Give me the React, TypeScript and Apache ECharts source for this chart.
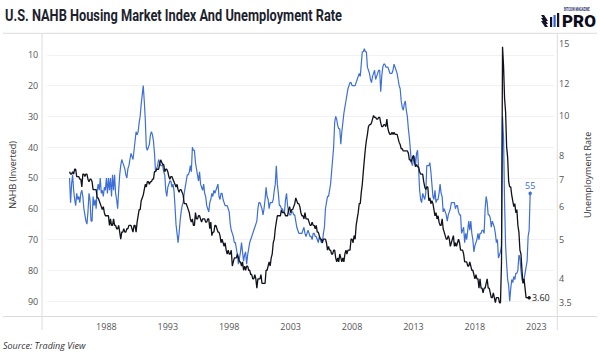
import React, { useEffect, useRef } from "react";
import * as echarts from "echarts";

// Monthly series starting January 1985
const START_YEAR = 1985;

// NAHB Housing Market Index (plotted on an inverted left axis), Jan 1985 - Jul 2022
const nahb: number[] = [
  50, 58, 52, 49, 54, 57, 59, 55, 57, 56, 58, 55, // 1985
  54, 56, 60, 62, 64, 65, 61, 55, 57, 64, 64, 56, // 1986
  59, 57, 60, 54, 52, 54, 50, 55, 54, 56, 53, 54, // 1987
  50, 55, 50, 54, 50, 56, 49, 54, 49, 55, 57, 60, // 1988
  54, 49, 46, 44, 45, 46, 47, 49, 50, 47, 46, 44, // 1989
  42, 43, 44, 41, 38, 35, 36, 35, 32, 30, 26, 23, // 1990
  20, 25, 31, 40, 41, 40, 39, 36, 35, 36, 38, 42, // 1991
  48, 47, 46, 44, 45, 46, 46, 46, 48, 49, 54, 56, // 1992
  53, 52, 51, 51, 53, 52, 54, 59, 65, 68, 71, 68, // 1993
  64, 61, 59, 58, 55, 53, 51, 49, 49, 48, 46, 48, // 1994
  40, 41, 41, 45, 47, 49, 51, 48, 52, 53, 54, 52, // 1995
  55, 56, 59, 60, 61, 58, 57, 55, 56, 54, 55, 54, // 1996
  53, 52, 56, 57, 55, 55, 57, 58, 59, 59, 59, 60, // 1997
  61, 65, 67, 68, 69, 71, 71, 73, 75, 78, 76, 74, // 1998
  71, 74, 77, 75, 74, 78, 75, 73, 71, 70, 69, 68, // 1999
  67, 66, 65, 64, 60, 58, 58, 59, 60, 62, 60, 57, // 2000
  53, 56, 57, 60, 58, 58, 58, 57, 54, 52, 46, 52, // 2001
  55, 59, 59, 60, 60, 61, 61, 57, 55, 59, 61, 62, // 2002
  62, 61, 61, 62, 62, 64, 66, 67, 68, 68, 68, 68, // 2003
  67, 66, 68, 69, 68, 67, 68, 69, 69, 70, 68, 68, // 2004
  69, 69, 70, 71, 69, 70, 71, 71, 68, 66, 60, 58, // 2005
  56, 56, 54, 52, 48, 44, 40, 32, 30, 31, 33, 34, // 2006
  34, 39, 35, 32, 29, 27, 25, 23, 21, 20, 19, 19, // 2007
  20, 20, 20, 20, 19, 18, 17, 16, 17, 13, 9, 9, // 2008
  8, 9, 9, 14, 15, 16, 18, 19, 17, 16, 15, 18, // 2009
  17, 16, 15, 15, 22, 17, 14, 13, 13, 14, 14, 14, // 2010
  15, 16, 16, 16, 15, 13, 14, 15, 16, 18, 20, 21, // 2011
  25, 27, 28, 26, 25, 28, 30, 34, 37, 41, 45, 46, // 2012
  44, 43, 46, 42, 41, 47, 54, 57, 58, 55, 56, 57, // 2013
  55, 46, 46, 46, 45, 48, 52, 56, 57, 54, 58, 57, // 2014
  57, 55, 52, 55, 56, 61, 60, 61, 62, 64, 62, 61, // 2015
  60, 58, 58, 58, 58, 60, 59, 59, 61, 62, 62, 68, // 2016
  67, 66, 71, 68, 70, 67, 64, 67, 64, 68, 70, 74, // 2017
  72, 71, 70, 68, 70, 68, 68, 67, 67, 68, 60, 56, // 2018
  58, 62, 62, 63, 66, 64, 65, 66, 68, 71, 70, 76, // 2019
  75, 74, 72, 30, 37, 58, 72, 78, 83, 85, 90, 86, // 2020
  83, 84, 82, 83, 81, 81, 80, 75, 76, 80, 83, 84, // 2021
  83, 81, 79, 77, 69, 67, 55, // 2022
];

// U.S. unemployment rate (%), right log axis, Jan 1985 - Jun 2022
const unemployment: number[] = [
  7.3, 7.2, 7.2, 7.3, 7.2, 7.4, 7.4, 7.1, 7.1, 7.1, 7.0, 7.0, // 1985
  6.7, 7.2, 7.2, 7.1, 7.2, 7.2, 7.0, 6.9, 7.0, 7.0, 6.9, 6.6, // 1986
  6.6, 6.6, 6.6, 6.3, 6.3, 6.2, 6.1, 6.0, 5.9, 6.0, 5.8, 5.7, // 1987
  5.7, 5.7, 5.7, 5.4, 5.6, 5.4, 5.4, 5.6, 5.4, 5.4, 5.3, 5.3, // 1988
  5.4, 5.2, 5.0, 5.2, 5.2, 5.3, 5.2, 5.2, 5.3, 5.3, 5.4, 5.4, // 1989
  5.4, 5.3, 5.2, 5.4, 5.4, 5.2, 5.5, 5.7, 5.9, 5.9, 6.2, 6.3, // 1990
  6.4, 6.6, 6.8, 6.7, 6.9, 6.9, 6.8, 6.9, 6.9, 7.0, 7.0, 7.3, // 1991
  7.3, 7.4, 7.4, 7.4, 7.6, 7.8, 7.7, 7.6, 7.6, 7.3, 7.4, 7.4, // 1992
  7.3, 7.1, 7.0, 7.1, 7.1, 7.0, 6.9, 6.8, 6.7, 6.8, 6.6, 6.5, // 1993
  6.6, 6.6, 6.5, 6.4, 6.1, 6.1, 6.1, 6.0, 5.9, 5.8, 5.6, 5.5, // 1994
  5.6, 5.4, 5.4, 5.8, 5.6, 5.6, 5.7, 5.7, 5.6, 5.5, 5.6, 5.6, // 1995
  5.6, 5.5, 5.5, 5.6, 5.6, 5.3, 5.5, 5.1, 5.2, 5.2, 5.4, 5.4, // 1996
  5.3, 5.2, 5.2, 5.1, 4.9, 5.0, 4.9, 4.8, 4.9, 4.7, 4.6, 4.7, // 1997
  4.6, 4.6, 4.7, 4.3, 4.4, 4.5, 4.5, 4.5, 4.6, 4.5, 4.4, 4.4, // 1998
  4.3, 4.4, 4.2, 4.3, 4.2, 4.3, 4.3, 4.2, 4.2, 4.1, 4.1, 4.0, // 1999
  4.0, 4.1, 4.0, 3.8, 4.0, 4.0, 4.0, 4.1, 3.9, 3.9, 3.9, 3.9, // 2000
  4.2, 4.2, 4.3, 4.4, 4.3, 4.5, 4.6, 4.9, 5.0, 5.3, 5.5, 5.7, // 2001
  5.7, 5.7, 5.7, 5.9, 5.8, 5.8, 5.8, 5.7, 5.7, 5.7, 5.9, 6.0, // 2002
  5.8, 5.9, 5.9, 6.0, 6.1, 6.3, 6.2, 6.1, 6.1, 6.0, 5.8, 5.7, // 2003
  5.7, 5.6, 5.8, 5.6, 5.6, 5.6, 5.5, 5.4, 5.4, 5.5, 5.4, 5.4, // 2004
  5.3, 5.4, 5.2, 5.2, 5.1, 5.0, 5.0, 4.9, 5.0, 5.0, 5.0, 4.9, // 2005
  4.7, 4.8, 4.7, 4.7, 4.6, 4.6, 4.7, 4.7, 4.5, 4.4, 4.5, 4.4, // 2006
  4.6, 4.5, 4.4, 4.5, 4.4, 4.6, 4.7, 4.6, 4.7, 4.7, 4.7, 5.0, // 2007
  5.0, 4.9, 5.1, 5.0, 5.4, 5.6, 5.8, 6.1, 6.1, 6.5, 6.8, 7.3, // 2008
  7.8, 8.3, 8.7, 9.0, 9.4, 9.5, 9.5, 9.6, 9.8, 10.0, 9.9, 9.9, // 2009
  9.8, 9.8, 9.9, 9.9, 9.6, 9.4, 9.4, 9.5, 9.5, 9.4, 9.8, 9.3, // 2010
  9.1, 9.0, 9.0, 9.1, 9.0, 9.1, 9.0, 9.0, 9.0, 8.8, 8.6, 8.5, // 2011
  8.3, 8.3, 8.2, 8.2, 8.2, 8.2, 8.2, 8.1, 7.8, 7.8, 7.7, 7.9, // 2012
  8.0, 7.7, 7.5, 7.6, 7.5, 7.5, 7.3, 7.2, 7.2, 7.2, 6.9, 6.7, // 2013
  6.6, 6.7, 6.7, 6.2, 6.3, 6.1, 6.2, 6.1, 5.9, 5.7, 5.8, 5.6, // 2014
  5.7, 5.5, 5.4, 5.4, 5.6, 5.3, 5.2, 5.1, 5.0, 5.0, 5.1, 5.0, // 2015
  4.8, 4.9, 5.0, 5.1, 4.8, 4.9, 4.8, 4.9, 5.0, 4.9, 4.7, 4.7, // 2016
  4.7, 4.6, 4.4, 4.4, 4.4, 4.3, 4.3, 4.4, 4.3, 4.2, 4.2, 4.1, // 2017
  4.0, 4.1, 4.0, 4.0, 3.8, 4.0, 3.8, 3.8, 3.7, 3.8, 3.8, 3.9, // 2018
  4.0, 3.8, 3.8, 3.7, 3.6, 3.6, 3.7, 3.6, 3.5, 3.6, 3.6, 3.6, // 2019
  3.5, 3.5, 4.4, 14.7, 13.2, 11.0, 10.2, 8.4, 7.9, 6.9, 6.7, 6.7, // 2020
  6.4, 6.2, 6.0, 6.1, 5.8, 5.9, 5.4, 5.2, 4.7, 4.6, 4.2, 3.9, // 2021
  4.0, 3.8, 3.6, 3.6, 3.6, 3.6, // 2022
];

const xTickYears = [1988, 1993, 1998, 2003, 2008, 2013, 2018, 2023];
const unemploymentTicks = [3.5, 4, 5, 6, 7, 8, 10, 12, 15];

const BLUE = "#3d6fd6";
const BLACK = "#10121c";
const GRID_LINE = "#dcdcdc";

// layout
const PLOT = { left: 42, right: 557.3, top: 33.3, bottom: 316.5 };

export default function App() {
  const ref = useRef<HTMLDivElement>(null);

  useEffect(() => {
    if (!ref.current) return;
    const chart = echarts.init(ref.current, null, { renderer: "svg" });
    const toYear = (i: number) => START_YEAR + i / 12;

    const nahbData = nahb.map((v, i) =>
      i === nahb.length - 1
        ? {
            value: [toYear(i), v],
            symbol: "circle",
            symbolSize: 3.5,
            label: {
              show: true,
              position: "top",
              distance: 2,
              formatter: String(v),
              color: BLUE,
              fontSize: 9,
              fontFamily: "Open Sans",
            },
          }
        : [toYear(i), v]
    );

    const lastUr = unemployment[unemployment.length - 1];
    const urData = unemployment.map((u, i) =>
      i === unemployment.length - 1
        ? {
            value: [toYear(i), Math.log(u)],
            symbol: "circle",
            symbolSize: 3.5,
            label: {
              show: true,
              position: "right",
              distance: 1,
              formatter: lastUr.toFixed(2),
              color: "#222",
              fontSize: 9,
              fontFamily: "Open Sans",
            },
          }
        : [toYear(i), Math.log(u)]
    );

    const tickFont = { fontFamily: "Open Sans", fontSize: 9, color: "#555" };

    chart.setOption({
      animation: false,
      backgroundColor: "#ffffff",
      grid: {
        left: PLOT.left,
        right: 600 - PLOT.right,
        top: PLOT.top,
        bottom: 355 - PLOT.bottom,
        containLabel: false,
      },
      xAxis: {
        type: "value",
        min: 1983.18,
        max: 2024.44,
        axisLine: { show: false },
        axisTick: { show: false },
        splitLine: { show: false },
        axisLabel: {
          ...tickFont,
          margin: 5,
          customValues: xTickYears,
          formatter: (v: number) => String(Math.round(v)),
        },
      },
      yAxis: [
        {
          type: "value",
          inverse: true,
          min: 3,
          max: 95,
          minInterval: 10,
          maxInterval: 10,
          axisLine: { show: false },
          axisTick: { show: false },
          splitLine: { show: true, lineStyle: { color: "#f1f1f1", width: 1 } },
          axisLabel: {
            ...tickFont,
            margin: 9,
            showMinLabel: false,
            showMaxLabel: false,
            formatter: (v: number) => (v % 10 === 0 ? String(v) : ""),
          },
          name: "NAHB (Inverted)",
          nameLocation: "middle",
          nameGap: 28,
          nameRotate: 90,
          nameTextStyle: { fontFamily: "Open Sans", fontSize: 9, color: "#333" },
        },
        {
          type: "value",
          position: "right",
          min: Math.log(3.24),
          max: Math.log(15.86),
          axisLine: { show: false },
          axisTick: { show: false },
          splitLine: { show: false },
          axisLabel: {
            ...tickFont,
            margin: 5,
            customValues: unemploymentTicks.map((t) => Math.log(t)),
            formatter: (v: number) => String(Number(Math.exp(v).toFixed(1))),
          },
          name: "Unemployment Rate",
          nameLocation: "middle",
          nameGap: 29,
          nameRotate: 90,
          nameTextStyle: { fontFamily: "Open Sans", fontSize: 9, color: "#333" },
        },
      ],
      series: [
        {
          name: "NAHB",
          type: "line",
          yAxisIndex: 0,
          data: nahbData,
          symbol: "none",
          showSymbol: true,
          lineStyle: { color: BLUE, width: 1.2 },
          itemStyle: { color: BLUE },
          z: 2,
        },
        {
          name: "Unemployment Rate",
          type: "line",
          yAxisIndex: 1,
          data: urData,
          symbol: "none",
          showSymbol: true,
          lineStyle: { color: BLACK, width: 1.3 },
          itemStyle: { color: BLACK },
          z: 3,
        },
      ],
      graphic: [
        // frame lines
        { type: "line", z: 10, shape: { x1: 3, y1: PLOT.top, x2: 597, y2: PLOT.top }, style: { stroke: GRID_LINE, lineWidth: 1 } },
        { type: "line", z: 10, shape: { x1: 3, y1: PLOT.bottom, x2: 597, y2: PLOT.bottom }, style: { stroke: GRID_LINE, lineWidth: 1 } },
        { type: "line", z: 10, shape: { x1: PLOT.left, y1: PLOT.top, x2: PLOT.left, y2: 330 }, style: { stroke: GRID_LINE, lineWidth: 1 } },
        { type: "line", z: 10, shape: { x1: PLOT.right, y1: PLOT.top, x2: PLOT.right, y2: 330 }, style: { stroke: GRID_LINE, lineWidth: 1 } },
        // title (condensed look)
        {
          type: "text",
          x: 5,
          y: 8,
          scaleX: 0.8,
          style: {
            text: "U.S. NAHB Housing Market Index And Unemployment Rate",
            font: "bold 16px Roboto",
            fill: "#1d1f2e",
          },
        },
        // logo
        {
          type: "group",
          x: 541,
          y: 7,
          children: [
            { type: "polygon", shape: { points: [[0, 8], [3, 8], [7, 14], [4, 14]] }, style: { fill: "#12142a" } },
            { type: "polygon", shape: { points: [[0, 11], [3, 11], [7, 17], [4, 17]] }, style: { fill: "#12142a" } },
            { type: "polygon", shape: { points: [[0, 14], [3, 14], [7, 20], [4, 20]] }, style: { fill: "#12142a" } },
            { type: "rect", shape: { x: 9, y: 10, width: 2.2, height: 10 }, style: { fill: "#12142a" } },
            { type: "rect", shape: { x: 12.5, y: 8, width: 2.2, height: 12 }, style: { fill: "#2f63d8" } },
            { type: "rect", shape: { x: 16, y: 6, width: 2.2, height: 14 }, style: { fill: "#12142a" } },
            {
              type: "text",
              x: 23,
              y: 0.5,
              scaleX: 0.62,
              style: { text: "BITCOIN MAGAZINE", font: "bold 4.5px Roboto", fill: "#1d2d6b" },
            },
            {
              type: "text",
              x: 21,
              y: 5,
              style: { text: "PRO", font: "900 17px Roboto", fill: "#0c0d1a" },
            },
          ],
        },
        // source
        {
          type: "text",
          x: 3,
          y: 341,
          style: { text: "Source: Trading View", font: "italic 9px 'Open Sans'", fill: "#333" },
        },
      ],
    });

    return () => chart.dispose();
  }, []);

  return (
    <div
      ref={ref}
      style={{ position: "fixed", left: 0, top: 0, width: 600, height: 355, background: "#fff" }}
    />
  );
}
